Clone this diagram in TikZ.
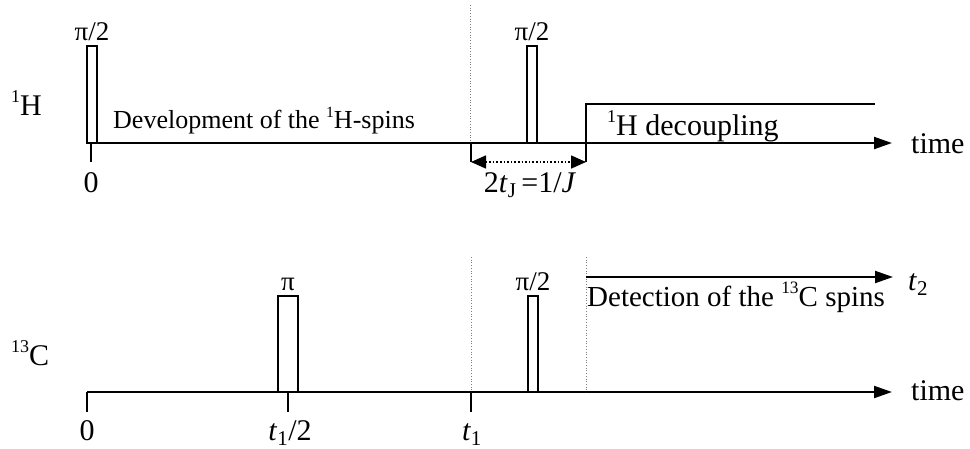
\documentclass[tikz,border=0pt]{standalone}
\usepackage{fontspec}
\setmainfont{Liberation Serif}
\usetikzlibrary{arrows.meta}
\newcommand{\bigf}{\fontsize{30}{33}\selectfont}
\newcommand{\midf}{\fontsize{29}{32}\selectfont}
\newcommand{\labf}{\fontsize{27}{30}\selectfont}
\newcommand{\smallf}{\fontsize{26}{29}\selectfont}
\newcommand{\supr}[1]{\raisebox{0.42em}{\fontsize{0.6em}{0.6em}\selectfont #1}}
\begin{document}
\begin{tikzpicture}[x=1pt,y=-1pt,
  axis/.style={line width=2pt,-{Triangle[length=18pt,width=12pt]}},
  tickln/.style={line width=2pt},
  pulse/.style={draw,line width=2pt,fill=white},
  guide/.style={gray,line width=0.7pt,dotted},
  big/.style={inner sep=0pt,font=\bigf},
  mid/.style={inner sep=0pt,font=\midf},
  lab/.style={inner sep=0pt,font=\labf},
  small/.style={inner sep=0pt,font=\smallf}]
\useasboundingbox (0,0) rectangle (970,448);
% ---------- 1H channel ----------
\coordinate (h0) at (87,143);
\coordinate (hend) at (892,143);
\draw[axis] (h0) -- (hend);
\draw[tickln] (91,143) -- (91,162);
\draw[pulse] (87,46) rectangle (97,143);
\node[lab,anchor=base] (hp1) at (92,40) {π/2};
\node[big,anchor=base] (hzero) at (91,192) {0};
\node[big,anchor=base west] (hlab) at (11,115) {\supr{1}H};
\node[small,anchor=base west] (hdev) at (113,128) {Development of the \supr{1}H-spins};
\draw[guide] (470,5) -- (470,143);
\draw[pulse] (527,46) rectangle (537,143);
\node[lab,anchor=base] (hp2) at (532,40) {π/2};
\coordinate (dstart) at (586,143);
\coordinate (dtop) at (586,104);
\coordinate (dend) at (875,104);
\draw[line width=2pt] (dstart) -- (dtop) -- (dend);
\node[big,anchor=base west] (hdec) at (607,135) {\supr{1}H decoupling};
\node[big,anchor=base west] (htime) at (911,153) {time};
% 2tJ
\coordinate (ja) at (471,162);
\coordinate (jb) at (586,162);
\draw[tickln] (471,143) -- (ja);
\draw[tickln] (586,143) -- (jb);
\draw[line width=1.6pt,dotted,{Triangle[length=15pt,width=13pt]}-{Triangle[length=15pt,width=13pt]}] (ja) -- (jb);
\node[big,anchor=base] (jlab) at (530,192) {2\textit{t}\textsubscript{J}\,=1/\textit{J}};
% ---------- 13C channel ----------
\coordinate (c0) at (87,392);
\coordinate (cend) at (892,392);
\draw[axis] (c0) -- (cend);
\draw[tickln] (87,392) -- (87,412);
\draw[tickln] (288,392) -- (288,412);
\draw[tickln] (471,392) -- (471,412);
\draw[pulse] (278,296) rectangle (298,392);
\node[lab,anchor=base] (cpi) at (288,290) {π};
\draw[pulse] (528,296) rectangle (538,392);
\node[lab,anchor=base] (cp2) at (533,290) {π/2};
\draw[guide] (471,257) -- (471,392);
\draw[guide] (586,257) -- (586,392);
\node[big,anchor=base west] (clab) at (11,365) {\supr{13}C};
\node[big,anchor=base] (czero) at (87,440) {0};
\node[big,anchor=base] (chalf) at (290,440) {\textit{t}\textsubscript{1}/2};
\node[big,anchor=base] (cone) at (472,440) {\textit{t}\textsubscript{1}};
\node[big,anchor=base west] (ctime) at (911,400) {time};
\coordinate (da) at (586,277);
\coordinate (db) at (893,277);
\draw[axis] (da) -- (db);
\node[mid,anchor=base west] (cdet) at (587,306) {Detection of the \supr{13}C spins};
\node[big,anchor=base west] (ctwo) at (908,290) {\textit{t}\textsubscript{2}};
\end{tikzpicture}
\end{document}
